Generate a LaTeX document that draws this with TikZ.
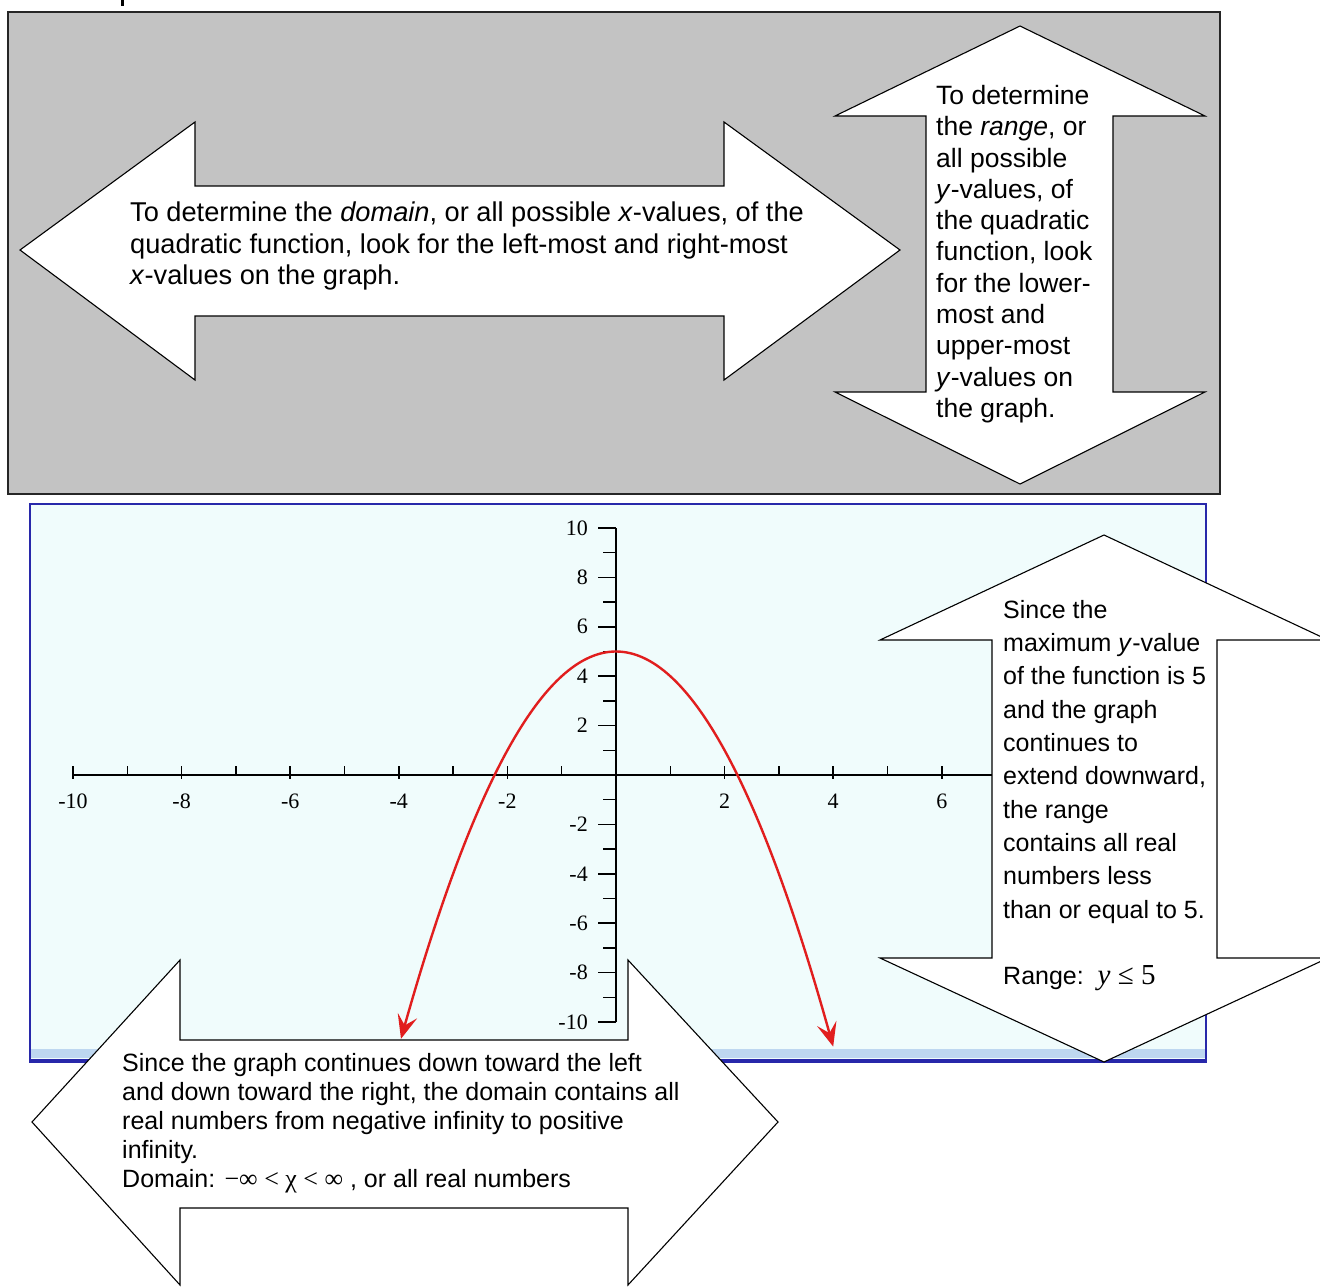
\documentclass[tikz,border=0pt]{standalone}
\usepackage{fontspec}
\setmainfont{Liberation Sans}
\newfontfamily\axisfont{Liberation Serif}
\usetikzlibrary{arrows.meta}
\definecolor{panelgrey}{RGB}{195,195,195}
\definecolor{plotbg}{RGB}{240,252,252}
\definecolor{plotframe}{RGB}{40,40,170}
\definecolor{plotband}{RGB}{190,215,240}
\definecolor{curvered}{RGB}{225,30,30}
\begin{document}
\begin{tikzpicture}[x=1pt,y=-1pt,
  every node/.style={inner sep=0pt},
  callout/.style={draw=black, fill=white, line width=1.1pt, line join=miter},
  note/.style={align=left, anchor=north west},
  ticklab/.style={font=\axisfont\fontsize{22}{22}\selectfont},
  tickline/.style={line width=1.5pt}
]
\useasboundingbox (0,0) rectangle (1320,1287);
\fill (120.5,0) rectangle (123.5,6);
% ---- grey panel: domain and range hints ----
\draw[fill=panelgrey, draw=black!85, line width=1.8pt] (8,12) rectangle (1220,494);
\draw[callout] (20,250) -- (195,122) -- (195,186) -- (724,186) -- (724,122) -- (900,250)
  -- (724,380) -- (724,316) -- (195,316) -- (195,380) -- cycle;
\node[note, font=\fontsize{27.2}{31.5}\selectfont] (domainhint) at (130,202)
  {To determine the \textit{domain}, or all possible \textit{x}-values, of the\\
   quadratic function, look for the left-most and right-most\\
   \textit{x}-values on the graph.};
\draw[callout] (1020,26) -- (1205,116) -- (1113,116) -- (1113,392) -- (1205,392) -- (1020,484)
  -- (835,392) -- (926,392) -- (926,116) -- (835,116) -- cycle;
\node[note, font=\fontsize{26.5}{31.3}\selectfont] (rangehint) at (936,85)
  {To determine\\the \textit{range}, or\\all possible\\\textit{y}-values, of\\the quadratic\\
   function, look\\for the lower-\\most and\\upper-most\\\textit{y}-values on\\the graph.};
% ---- graph window ----
\draw[fill=plotbg, draw=plotframe, line width=1.5pt] (30,504) rectangle (1206,1062);
\fill[plotband] (31,1049) rectangle (1205,1058);
\draw[plotframe, line width=2.5pt] (30,1060) -- (1206,1060);
\begin{scope}[shift={(616,775)}, x=54.3pt, y=24.7pt]
  \draw[line width=1.8pt] (-10,0) -- (7,0);
  \draw[line width=1.8pt] (0,-10) -- (0,10);
  \foreach \i in {-10,...,6} {
    \draw[tickline] (\i,0) -- +(0pt,9pt);
  }
  \foreach \i in {-10,-8,-6,-4,-2,2,4,6} {
    \draw[tickline] (\i,0) -- +(0pt,-4pt);
    \node[ticklab] (xl\i) at (\i,-1.05) {\i};
  }
  \foreach \j in {-10,...,-1,1,2,...,10} {
    \draw[tickline] (0,\j) -- +(-13pt,0pt);
  }
  \foreach \j in {-10,-8,-6,-4,-2,2,4,6,8,10} {
    \draw[tickline] (0,\j) -- +(-18pt,0pt);
    \node[ticklab, anchor=east, xshift=-28pt] (yl\j) at (0,\j) {\j};
  }
  \draw[curvered, line width=2.4pt, {Stealth[length=24pt,width=20pt,inset=10pt]}-{Stealth[length=24pt,width=20pt,inset=10pt]},
    domain=-3.96:4, samples=80, smooth] plot (\x, {5-\x*\x});
\end{scope}
% ---- callouts on the graph ----
\draw[callout] (1104,535) -- (1328,640) -- (1217,640) -- (1217,958) -- (1328,958) -- (1104,1062)
  -- (880,958) -- (992,958) -- (992,640) -- (880,640) -- cycle;
\node[note, font=\fontsize{25}{33.3}\selectfont] (rangenote) at (1003,600)
  {Since the\\maximum \textit{y}-value\\of the function is 5\\and the graph\\continues to\\
   extend downward,\\the range\\contains all real\\numbers less\\than or equal to 5.\\[33.3pt]
   Range:\ \ {\axisfont\fontsize{29}{33.3}\selectfont\textit{y} ≤ 5}};
\draw[callout] (32,1122) -- (180,960) -- (180,1040) -- (628,1040) -- (628,960) -- (778,1122)
  -- (628,1285) -- (628,1208) -- (180,1208) -- (180,1285) -- cycle;
\node[note, font=\fontsize{25}{29}\selectfont] (domainnote) at (122,1053)
  {Since the graph continues down toward the left\\
   and down toward the right, the domain contains all\\
   real numbers from negative infinity to positive\\
   infinity.\\
   Domain: {\axisfont\fontsize{26}{29}\selectfont −∞ < χ < ∞} , or all real numbers};
\end{tikzpicture}
\end{document}
